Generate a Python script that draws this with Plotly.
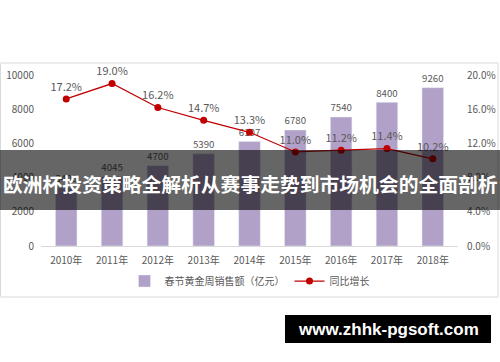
import plotly.graph_objects as go

years = ["2010年", "2011年", "2012年", "2013年", "2014年", "2015年", "2016年", "2017年", "2018年"]
sales = [3400, 4045, 4700, 5390, 6107, 6780, 7540, 8400, 9260]
growth = [0.172, 0.190, 0.162, 0.147, 0.133, 0.110, 0.112, 0.114, 0.102]
growth_labels = ["17.2%", "19.0%", "16.2%", "14.7%", "13.3%", "11.0%", "11.2%", "11.4%", "10.2%"]
sales_name = "春节黄金周销售额（亿元）"
growth_name = "同比增长"
title_text = "欧洲杯投资策略全解析从赛事走势到市场机会的全面剖析"
watermark = "www.zhhk-pgsoft.com"

FONT = "Noto Sans CJK SC, Noto Sans, sans-serif"
GRAY = "#595959"

fig = go.Figure()
fig.add_trace(go.Bar(
    x=years, y=sales, name=sales_name,
    marker=dict(color="#b1a0c7"),
    text=[str(v) for v in sales], textposition="outside",
    textfont=dict(color=GRAY, size=11, family=FONT),
    cliponaxis=False,
))
fig.add_trace(go.Scatter(
    x=years, y=growth, name=growth_name, yaxis="y2",
    mode="lines+markers+text",
    line=dict(color="#c00000", width=1.25),
    marker=dict(color="#c00000", size=7),
    text=growth_labels, textposition="top center",
    textfont=dict(color=GRAY, size=11, family=FONT),
    cliponaxis=False,
))

# pixel -> paper helpers (plot area: x 41..458, y 75..246)
L, R, T, B = 41, 458, 75, 246
def px(x):
    return (x - L) / (R - L)
def py(y):
    return (B - y) / (B - T)

fig.update_layout(
    width=500, height=362,
    margin=dict(l=L, r=500 - R, t=T, b=362 - B, autoexpand=False),
    paper_bgcolor="white", plot_bgcolor="white",
    font=dict(family=FONT, color=GRAY, size=10),
    bargap=0.53,
    showlegend=True,
    legend=dict(orientation="h", x=0.5, xanchor="center", y=py(281), yanchor="middle",
                font=dict(size=10, color=GRAY), bgcolor="rgba(0,0,0,0)"),
    xaxis=dict(showline=True, linecolor="#d9d9d9", linewidth=1, ticks="", automargin=False,
               tickfont=dict(size=10, color=GRAY), showgrid=False, ticklabelstandoff=5),
    yaxis=dict(range=[0, 10000], dtick=2000, tickformat="d", showgrid=False, zeroline=False,
               automargin=False, showline=False, tickfont=dict(size=10, color=GRAY),
               ticklabelstandoff=6),
    yaxis2=dict(range=[0, 0.20], dtick=0.04, tickformat=".1%", overlaying="y", side="right",
                showgrid=False, zeroline=False, showline=False, automargin=False,
                tickfont=dict(size=10, color=GRAY), ticklabelstandoff=8),
    shapes=[
        dict(type="rect", xref="paper", yref="paper", x0=px(0.5), x1=px(498), y0=py(63), y1=py(297),
             line=dict(color="#d9d9d9", width=1), fillcolor="rgba(0,0,0,0)", layer="below"),
        dict(type="rect", xref="paper", yref="paper", x0=px(-2), x1=px(502), y0=py(150), y1=py(210),
             line=dict(width=0), fillcolor="rgba(0,0,0,0.6)", layer="above"),
        dict(type="rect", xref="paper", yref="paper", x0=px(285), x1=px(491), y0=py(315), y1=py(343),
             line=dict(width=0), fillcolor="black", layer="above"),
    ],
    annotations=[
        dict(text="<b>" + title_text + "</b>", xref="paper", yref="paper", x=px(250), y=py(183),
             xanchor="center", yanchor="middle", showarrow=False,
             font=dict(size=19.8, color="white", family=FONT)),
        dict(text="<b>" + watermark + "</b>", xref="paper", yref="paper", x=px(388), y=py(329),
             xanchor="center", yanchor="middle", showarrow=False,
             font=dict(size=17, color="white", family="Liberation Sans, Arial, sans-serif")),
    ],
)

fig.write_html("out.html", config={"displayModeBar": False},
               post_script="document.body.style.margin='0';document.body.style.overflow='hidden';")
